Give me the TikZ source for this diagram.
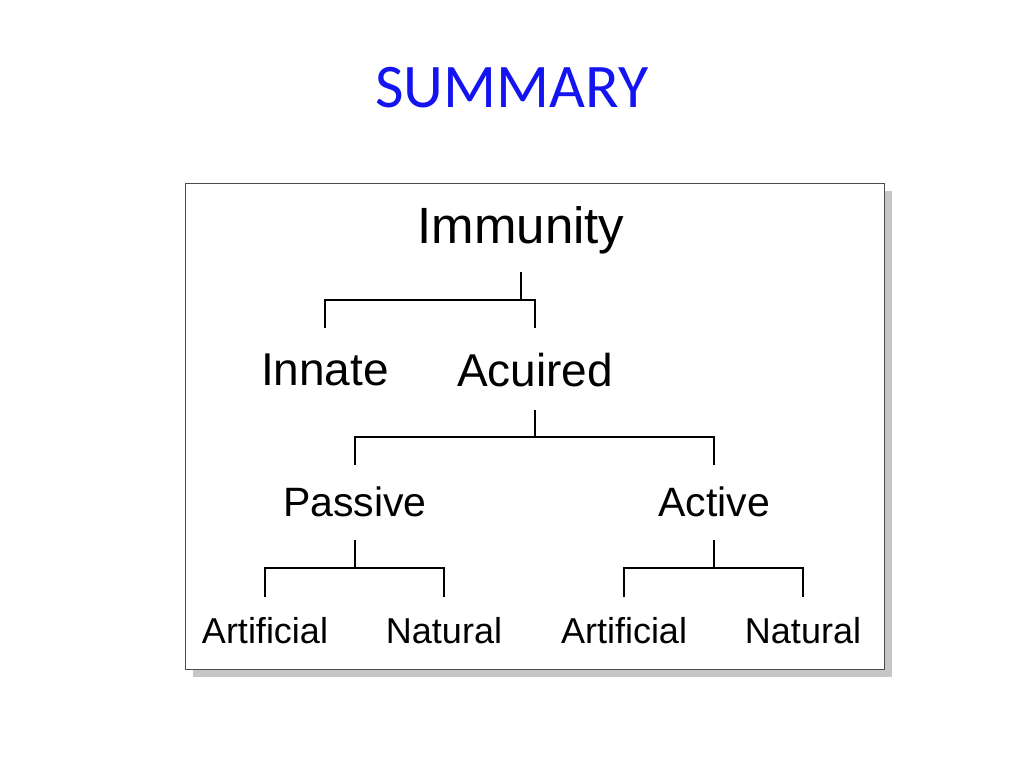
\documentclass[tikz,border=0pt]{standalone}
\usepackage{fontspec}
\setmainfont{Liberation Sans}
\newfontfamily\titlefont{Carlito}
\definecolor{ttl}{RGB}{20,20,240}
\begin{document}
\begin{tikzpicture}[x=1pt,y=-1pt,
  conn/.style={line width=1.6pt,black},
  lbl/.style={inner sep=0pt,anchor=center}]
\useasboundingbox (0,0) rectangle (1024,768);
\node[lbl,text=ttl,font=\titlefont\fontsize{62}{70}\selectfont] (title) at (512,88) {SUMMARY};
\fill[gray!45] (193,191) rectangle (892,677);
\draw[fill=white,line width=0.8pt,draw=black!70] (185,183) rectangle (884,669);
\node[lbl,font=\fontsize{51}{60}\selectfont] (imm) at (521,230) {Immunity};
\node[lbl,font=\fontsize{46}{54}\selectfont] (inn) at (325,370) {Innate};
\node[lbl,font=\fontsize{46}{54}\selectfont] (acq) at (535,370) {Acuired};
\node[lbl,font=\fontsize{41}{50}\selectfont] (pas) at (355,502) {Passive};
\node[lbl,font=\fontsize{41}{50}\selectfont] (act) at (714,502) {Active};
\node[lbl,font=\fontsize{36}{44}\selectfont] (pa) at (265,631) {Artificial};
\node[lbl,font=\fontsize{36}{44}\selectfont] (pn) at (444,631) {Natural};
\node[lbl,font=\fontsize{36}{44}\selectfont] (aa) at (624,631) {Artificial};
\node[lbl,font=\fontsize{36}{44}\selectfont] (an) at (803,631) {Natural};
% connectors
\coordinate (j1) at (521,300);
\draw[conn] (521,272) -- (j1);
\draw[conn] (inn.north |- 0,328) -- (inn.north |- j1) -- (acq.north |- j1) -- (acq.north |- 0,328);
\coordinate (j2) at (535,437);
\draw[conn] (acq.south |- 0,410) -- (j2);
\draw[conn] (pas.north |- 0,465) -- (pas.north |- j2) -- (act.north |- j2) -- (act.north |- 0,465);
\coordinate (j3) at (355,568);
\draw[conn] (pas.south |- 0,540) -- (j3);
\draw[conn] (pa.north |- 0,597) -- (pa.north |- j3) -- (pn.north |- j3) -- (pn.north |- 0,597);
\coordinate (j4) at (714,568);
\draw[conn] (act.south |- 0,540) -- (j4);
\draw[conn] (aa.north |- 0,597) -- (aa.north |- j4) -- (an.north |- j4) -- (an.north |- 0,597);
\end{tikzpicture}
\end{document}
